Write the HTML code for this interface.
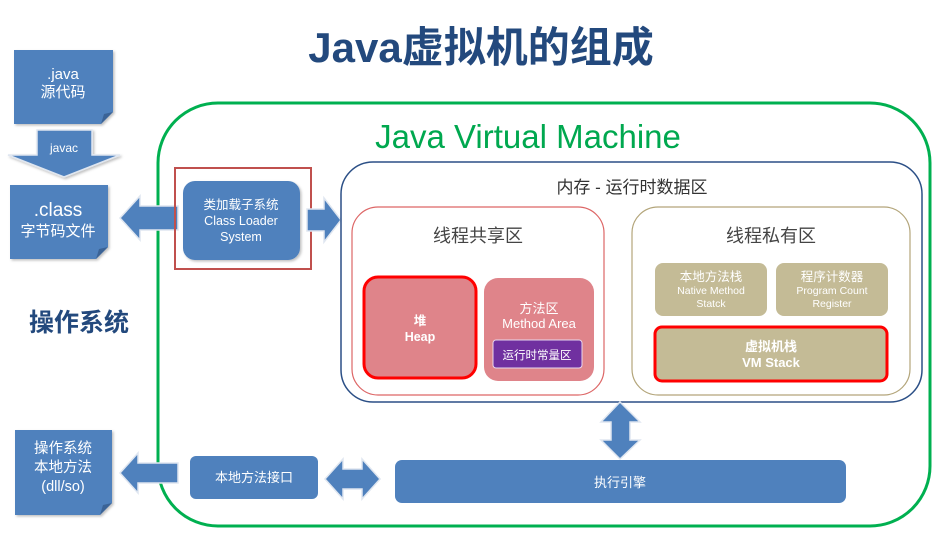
<!DOCTYPE html>
<html><head><meta charset="utf-8"><style>
html,body{margin:0;padding:0;background:#fff;}
svg{display:block;}
text{font-family:"Liberation Sans","Noto Sans CJK SC",sans-serif;}
</style></head><body>
<svg width="948" height="536" viewBox="0 0 948 536" xmlns="http://www.w3.org/2000/svg">
<defs>
<filter id="sh" x="-10%" y="-10%" width="130%" height="130%"><feDropShadow dx="1.5" dy="1.5" stdDeviation="1.2" flood-color="#000" flood-opacity="0.25"/></filter>
</defs>
<text x="481" y="62" text-anchor="middle" font-size="42" font-weight="bold" fill="#23497d">Java虚拟机的组成</text>

<rect x="158" y="103" width="772" height="423" rx="60" fill="none" stroke="#00b050" stroke-width="3"/>
<text x="528" y="148" text-anchor="middle" font-size="33" fill="#00a84f">Java Virtual Machine</text>

<g filter="url(#sh)">
<path d="M14 50 H113 V112 L101 124 H14 Z" fill="#4f81bd"/>
<path d="M113 112 L101 124 L104 114 Z" fill="#3a6496"/>
</g>
<text x="63" y="79" text-anchor="middle" font-size="15" fill="#fff">.java</text>
<text x="63" y="97" text-anchor="middle" font-size="15" fill="#fff">源代码</text>

<path d="M37 130 H92 V155 H120 L64 177 L8 155 H37 Z" fill="#4f81bd" stroke="#dfe6f0" stroke-width="1.5" filter="url(#sh)"/>
<text x="64" y="152" text-anchor="middle" font-size="12" fill="#fff">javac</text>

<g filter="url(#sh)">
<path d="M10 185 H108 V247 L96 259 H10 Z" fill="#4f81bd"/>
<path d="M108 247 L96 259 L99 249 Z" fill="#3a6496"/>
</g>
<text x="58" y="216" text-anchor="middle" font-size="19" fill="#fff">.class</text>
<text x="58" y="236" text-anchor="middle" font-size="15" fill="#fff">字节码文件</text>

<path d="M178 206 H140 V196 L120 218 L140 240 V230 H178 Z" fill="#4f81bd" stroke="#dfe6f0" stroke-width="1.5"/>

<rect x="183" y="181" width="117" height="79" rx="12" fill="#4f81bd" filter="url(#sh)"/>
<text x="241" y="209" text-anchor="middle" font-size="12.5" fill="#fff">类加载子系统</text>
<text x="241" y="225" text-anchor="middle" font-size="12.5" fill="#fff">Class Loader</text>
<text x="241" y="241" text-anchor="middle" font-size="12.5" fill="#fff">System</text>
<rect x="175" y="168" width="136" height="101" fill="none" stroke="#c0504d" stroke-width="2"/>

<path d="M307 209 H324 V198 L341 220 L324 242 V231 H307 Z" fill="#4f81bd" stroke="#dfe6f0" stroke-width="1.5"/>

<rect x="341" y="162" width="581" height="240" rx="32" fill="none" stroke="#2b4f86" stroke-width="1.5"/>
<text x="632" y="193" text-anchor="middle" font-size="17" fill="#333">内存 - 运行时数据区</text>

<rect x="352" y="207" width="252" height="188" rx="26" fill="none" stroke="#d66" stroke-width="1.2"/>
<text x="478" y="242" text-anchor="middle" font-size="18" fill="#444">线程共享区</text>
<rect x="364" y="277" width="112" height="101" rx="14" fill="#df848a" stroke="#f00" stroke-width="3"/>
<text x="420" y="325" text-anchor="middle" font-size="12.5" font-weight="bold" fill="#fff">堆</text>
<text x="420" y="341" text-anchor="middle" font-size="12.5" font-weight="bold" fill="#fff">Heap</text>
<rect x="484" y="278" width="110" height="103" rx="14" fill="#df848a"/>
<text x="539" y="313" text-anchor="middle" font-size="13" fill="#fff">方法区</text>
<text x="539" y="328" text-anchor="middle" font-size="13" fill="#fff">Method Area</text>
<rect x="493" y="340" width="89" height="28" rx="3" fill="#7030a0" stroke="#e8d8ee" stroke-width="1"/>
<text x="537" y="359" text-anchor="middle" font-size="11.5" fill="#fff">运行时常量区</text>

<rect x="632" y="207" width="278" height="188" rx="26" fill="none" stroke="#b3a57a" stroke-width="1.2"/>
<text x="771" y="242" text-anchor="middle" font-size="18" fill="#444">线程私有区</text>
<rect x="655" y="263" width="112" height="53" rx="8" fill="#c4bb96"/>
<text x="711" y="281" text-anchor="middle" font-size="12.5" fill="#fff">本地方法栈</text>
<text x="711" y="294" text-anchor="middle" font-size="10.5" fill="#fff">Native Method</text>
<text x="711" y="307" text-anchor="middle" font-size="10.5" fill="#fff">Statck</text>
<rect x="776" y="263" width="112" height="53" rx="8" fill="#c4bb96"/>
<text x="832" y="281" text-anchor="middle" font-size="12.5" fill="#fff">程序计数器</text>
<text x="832" y="294" text-anchor="middle" font-size="10.5" fill="#fff">Program Count</text>
<text x="832" y="307" text-anchor="middle" font-size="10.5" fill="#fff">Register</text>
<rect x="655" y="327" width="232" height="54" rx="7" fill="#c4bb96" stroke="#f00" stroke-width="3"/>
<text x="771" y="351" text-anchor="middle" font-size="13" font-weight="bold" fill="#fff">虚拟机栈</text>
<text x="771" y="367" text-anchor="middle" font-size="13" font-weight="bold" fill="#fff">VM Stack</text>

<path d="M620 402 L640 422 H630 V440 H640 L620 459 L601 440 H611 V422 H601 Z" fill="#4f81bd" stroke="#dfe6f0" stroke-width="1.5"/>

<rect x="395" y="460" width="451" height="43" rx="7" fill="#4f81bd"/>
<text x="620" y="487" text-anchor="middle" font-size="13" fill="#fff">执行引擎</text>

<rect x="190" y="456" width="128" height="43" rx="6" fill="#4f81bd"/>
<text x="254" y="482" text-anchor="middle" font-size="13" fill="#fff">本地方法接口</text>

<path d="M325 479 L343 459 V469 H362 V459 L380 479 L362 499 V489 H343 V499 Z" fill="#4f81bd" stroke="#dfe6f0" stroke-width="1.5"/>

<path d="M178 463 H138 V453 L120 473 L138 493 V483 H178 Z" fill="#4f81bd" stroke="#dfe6f0" stroke-width="1.5"/>

<g filter="url(#sh)">
<path d="M15 430 H112 V503 L100 515 H15 Z" fill="#4f81bd"/>
<path d="M112 503 L100 515 L103 505 Z" fill="#3a6496"/>
</g>
<text x="63" y="453" text-anchor="middle" font-size="14.5" fill="#fff">操作系统</text>
<text x="63" y="472" text-anchor="middle" font-size="14.5" fill="#fff">本地方法</text>
<text x="63" y="491" text-anchor="middle" font-size="14.5" fill="#fff">(dll/so)</text>

<text x="79" y="331" text-anchor="middle" font-size="25" font-weight="bold" fill="#23497d">操作系统</text>
</svg>
</body></html>
